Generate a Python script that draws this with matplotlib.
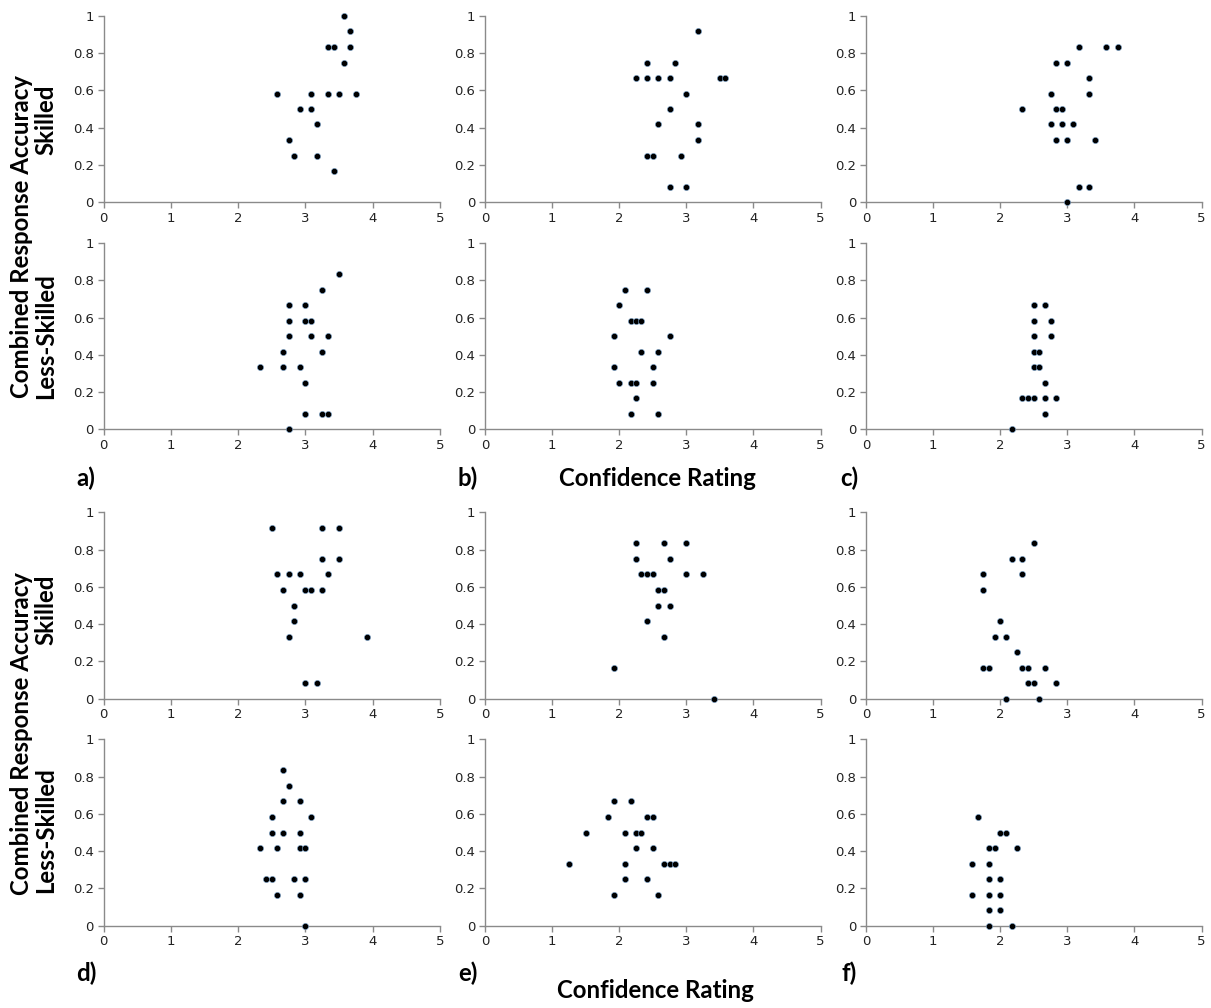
import matplotlib
matplotlib.use("Agg")
import matplotlib.pyplot as plt

# ---------------- data ----------------
a_sk_x = [3.58, 3.67, 3.33, 3.42, 3.67, 3.58, 2.58, 3.08, 3.33, 3.50, 3.75, 2.92, 3.08, 3.17, 2.75, 2.83, 3.17, 3.42]
a_sk_y = [1.0, 0.917, 0.833, 0.833, 0.833, 0.75, 0.583, 0.583, 0.583, 0.583, 0.583, 0.5, 0.5, 0.417, 0.333, 0.25, 0.25, 0.167]
a_ls_x = [3.50, 3.25, 2.75, 3.00, 2.75, 3.00, 3.08, 2.75, 3.08, 3.33, 2.67, 3.25, 2.33, 2.67, 2.92, 3.00, 3.00, 3.25, 3.33, 2.75]
a_ls_y = [0.833, 0.75, 0.667, 0.667, 0.583, 0.583, 0.583, 0.5, 0.5, 0.5, 0.417, 0.417, 0.333, 0.333, 0.333, 0.25, 0.083, 0.083, 0.083, 0.0]

b_sk_x = [3.17, 2.42, 2.83, 2.25, 2.42, 2.58, 2.75, 3.50, 3.58, 3.00, 2.75, 2.58, 3.17, 3.17, 2.42, 2.50, 2.92, 2.75, 3.00]
b_sk_y = [0.917, 0.75, 0.75, 0.667, 0.667, 0.667, 0.667, 0.667, 0.667, 0.583, 0.5, 0.417, 0.417, 0.333, 0.25, 0.25, 0.25, 0.083, 0.083]
b_ls_x = [2.08, 2.42, 2.00, 2.17, 2.25, 2.33, 1.92, 2.75, 2.33, 2.58, 1.92, 2.50, 2.00, 2.17, 2.25, 2.50, 2.25, 2.17, 2.58]
b_ls_y = [0.75, 0.75, 0.667, 0.583, 0.583, 0.583, 0.5, 0.5, 0.417, 0.417, 0.333, 0.333, 0.25, 0.25, 0.25, 0.25, 0.167, 0.083, 0.083]

c_sk_x = [3.17, 3.58, 3.75, 2.83, 3.00, 3.33, 2.75, 3.33, 2.33, 2.83, 2.92, 2.75, 2.92, 3.08, 2.83, 3.00, 3.42, 3.17, 3.33, 3.00]
c_sk_y = [0.833, 0.833, 0.833, 0.75, 0.75, 0.667, 0.583, 0.583, 0.5, 0.5, 0.5, 0.417, 0.417, 0.417, 0.333, 0.333, 0.333, 0.083, 0.083, 0.0]
c_ls_x = [2.50, 2.67, 2.50, 2.75, 2.50, 2.75, 2.50, 2.58, 2.50, 2.58, 2.67, 2.33, 2.42, 2.50, 2.67, 2.83, 2.67, 2.17]
c_ls_y = [0.667, 0.667, 0.583, 0.583, 0.5, 0.5, 0.417, 0.417, 0.333, 0.333, 0.25, 0.167, 0.167, 0.167, 0.167, 0.167, 0.083, 0.0]

d_sk_x = [2.50, 3.25, 3.50, 3.25, 3.50, 2.58, 2.75, 2.92, 3.33, 2.67, 3.00, 3.08, 3.25, 2.83, 2.83, 2.75, 3.92, 3.00, 3.17]
d_sk_y = [0.917, 0.917, 0.917, 0.75, 0.75, 0.667, 0.667, 0.667, 0.667, 0.583, 0.583, 0.583, 0.583, 0.5, 0.417, 0.333, 0.333, 0.083, 0.083]
d_ls_x = [2.67, 2.75, 2.67, 2.92, 2.50, 3.08, 2.50, 2.67, 2.92, 2.33, 2.58, 2.92, 3.00, 2.42, 2.50, 2.83, 3.00, 2.58, 2.92, 3.00]
d_ls_y = [0.833, 0.75, 0.667, 0.667, 0.583, 0.583, 0.5, 0.5, 0.5, 0.417, 0.417, 0.417, 0.417, 0.25, 0.25, 0.25, 0.25, 0.167, 0.167, 0.0]

e_sk_x = [2.25, 2.67, 3.00, 2.25, 2.75, 2.33, 2.42, 2.50, 3.00, 3.25, 2.58, 2.67, 2.58, 2.75, 2.42, 2.67, 1.92, 3.42]
e_sk_y = [0.833, 0.833, 0.833, 0.75, 0.75, 0.667, 0.667, 0.667, 0.667, 0.667, 0.583, 0.583, 0.5, 0.5, 0.417, 0.333, 0.167, 0.0]
e_ls_x = [1.92, 2.17, 1.83, 2.42, 2.50, 1.50, 2.08, 2.25, 2.33, 2.25, 2.50, 1.25, 2.08, 2.67, 2.75, 2.83, 2.08, 2.42, 1.92, 2.58]
e_ls_y = [0.667, 0.667, 0.583, 0.583, 0.583, 0.5, 0.5, 0.5, 0.5, 0.417, 0.417, 0.333, 0.333, 0.333, 0.333, 0.333, 0.25, 0.25, 0.167, 0.167]

f_sk_x = [2.50, 2.17, 2.33, 1.75, 2.33, 1.75, 2.00, 1.92, 2.08, 2.25, 1.75, 1.83, 2.33, 2.42, 2.67, 2.42, 2.50, 2.83, 2.08, 2.58]
f_sk_y = [0.833, 0.75, 0.75, 0.667, 0.667, 0.583, 0.417, 0.333, 0.333, 0.25, 0.167, 0.167, 0.167, 0.167, 0.167, 0.083, 0.083, 0.083, 0.0, 0.0]
f_ls_x = [1.67, 2.00, 2.08, 1.83, 1.92, 2.25, 1.58, 1.83, 1.83, 2.00, 1.58, 1.83, 2.00, 1.83, 2.00, 1.83, 2.17]
f_ls_y = [0.583, 0.5, 0.5, 0.417, 0.417, 0.417, 0.333, 0.333, 0.25, 0.25, 0.167, 0.167, 0.167, 0.083, 0.083, 0.0, 0.0]

x_ticks = [0, 1, 2, 3, 4, 5]
x_tick_labels = ["0", "1", "2", "3", "4", "5"]
y_ticks = [0, 0.2, 0.4, 0.6, 0.8, 1.0]
y_tick_labels = ["0", "0.2", "0.4", "0.6", "0.8", "1"]
panel_letters = ["a)", "b)", "c)", "d)", "e)", "f)"]

# grid of panels: [block][row][col] -> (x, y)
panels = [
    [[(a_sk_x, a_sk_y), (b_sk_x, b_sk_y), (c_sk_x, c_sk_y)],
     [(a_ls_x, a_ls_y), (b_ls_x, b_ls_y), (c_ls_x, c_ls_y)]],
    [[(d_sk_x, d_sk_y), (e_sk_x, e_sk_y), (f_sk_x, f_sk_y)],
     [(d_ls_x, d_ls_y), (e_ls_x, e_ls_y), (f_ls_x, f_ls_y)]],
]

# ---------------- layout ----------------
W, H = 1211, 1008
fig = plt.figure(figsize=(W / 100, H / 100), dpi=100)
fig.patch.set_facecolor("white")

col_px = [(103.5, 440.0), (485.0, 820.5), (866.0, 1201.5)]
row_px = [[(16.0, 202.0), (243.0, 429.3)], [(512.3, 698.7), (739.3, 925.7)]]

spine_col = "#8a8a8a"
font_b = ["Lato", "DejaVu Sans"]

for b in range(2):
    for r in range(2):
        for c in range(3):
            x0, x1 = col_px[c]
            yt, yb = row_px[b][r]
            ax = fig.add_axes([x0 / W, 1 - yb / H, (x1 - x0) / W, (yb - yt) / H])
            xs, ys = panels[b][r][c]
            ax.scatter(xs, ys, s=20, color="black", edgecolors="#7fa8d0",
                       linewidths=0.4, zorder=5, clip_on=False)
            ax.set_xlim(0, 5)
            ax.set_ylim(0, 1)
            ax.set_xticks(x_ticks)
            ax.set_xticklabels(x_tick_labels)
            ax.set_yticks(y_ticks)
            ax.set_yticklabels(y_tick_labels)
            for s in ["top", "right"]:
                ax.spines[s].set_visible(False)
            for s in ["left", "bottom"]:
                ax.spines[s].set_color(spine_col)
                ax.spines[s].set_linewidth(1.0)
            ax.tick_params(axis="both", direction="out", length=4, width=1.0,
                           color=spine_col, labelsize=9.5, labelcolor="#222222", pad=3)
            ax.patch.set_alpha(0)

# ---------------- texts ----------------
def px(x, y):
    return x / W, 1 - y / H

FS = 17.3
for b, (cy, sy, ly) in enumerate([(237, 120, 336), (734, 610, 830)]):
    fig.text(*px(22, cy), "Combined Response Accuracy", rotation=90, ha="center",
             va="center", fontsize=FS, fontweight="bold", family=font_b)
    fig.text(*px(46, sy), "Skilled", rotation=90, ha="center", va="center",
             fontsize=FS, fontweight="bold", family=font_b)
    fig.text(*px(46, ly), "Less-Skilled", rotation=90, ha="center", va="center",
             fontsize=FS, fontweight="bold", family=font_b)

for i, (lx, ly) in enumerate([(86, 478), (468, 478), (849, 478), (86, 973), (468, 973), (849, 973)]):
    fig.text(*px(lx, ly), panel_letters[i], ha="center", va="center",
             fontsize=FS, fontweight="bold", family=font_b)

fig.text(*px(657, 478), "Confidence Rating", ha="center", va="center",
         fontsize=FS, fontweight="bold", family=font_b)
fig.text(*px(655, 990), "Confidence Rating", ha="center", va="center",
         fontsize=FS, fontweight="bold", family=font_b)

fig.savefig("out.png", dpi=100)
